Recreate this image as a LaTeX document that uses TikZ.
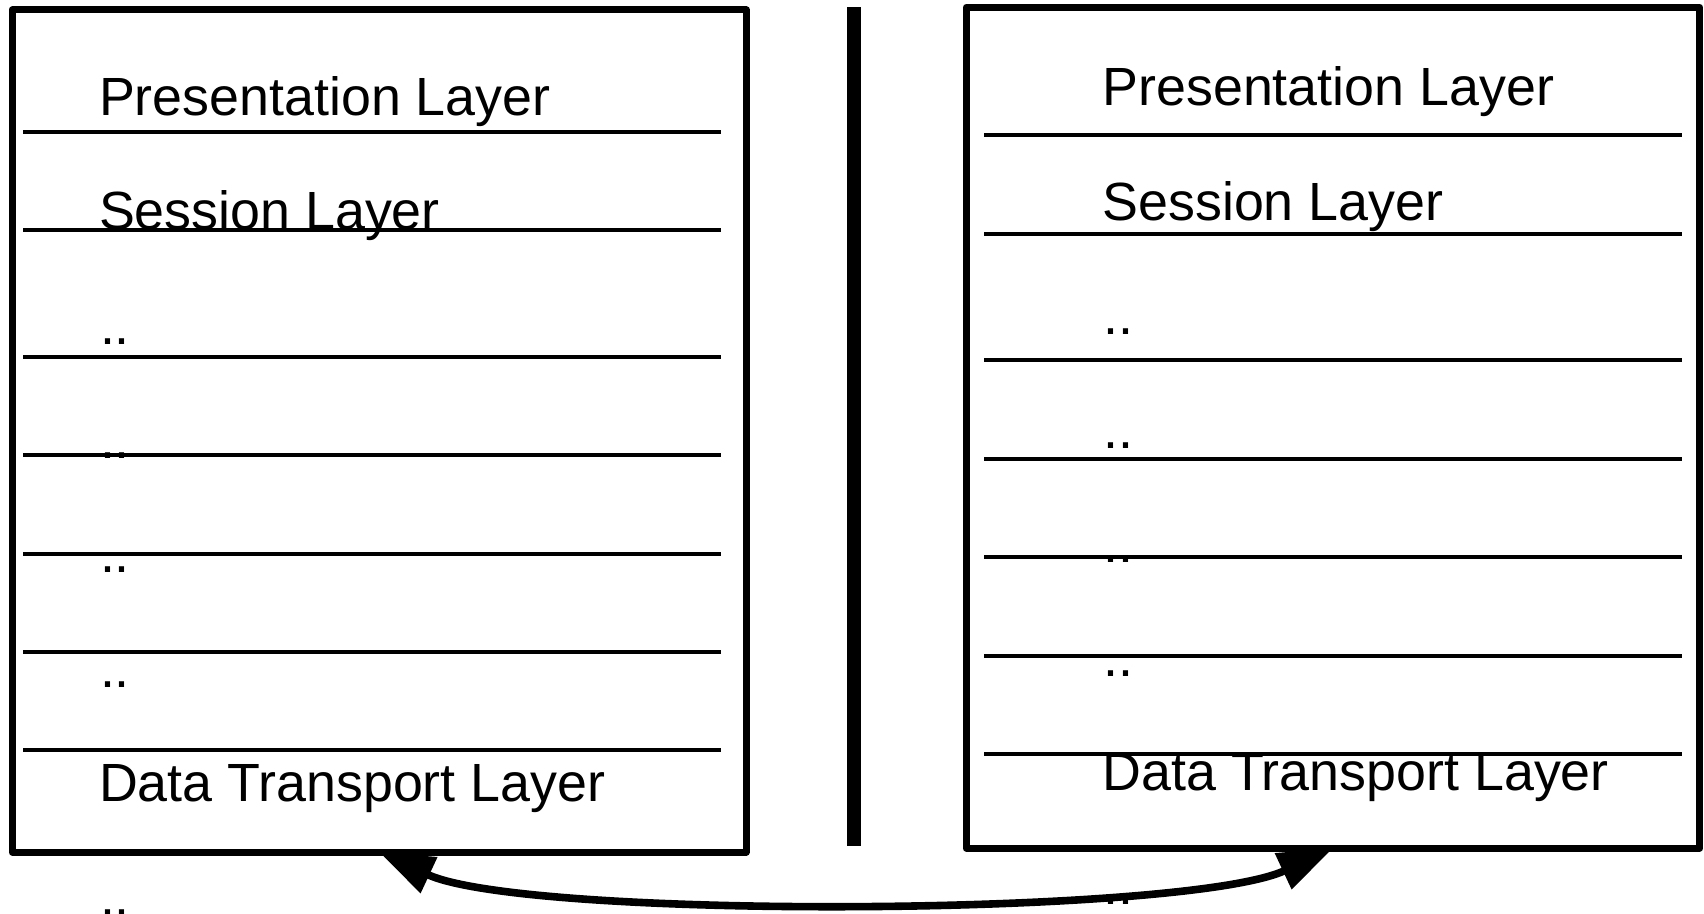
\documentclass[tikz,border=0pt]{standalone}
\usepackage{fontspec}
\setmainfont{Liberation Sans}
\usetikzlibrary{arrows.meta}
\begin{document}
\begin{tikzpicture}[x=0.5pt,y=-0.5pt,
  stackbox/.style={draw,line width=3.5pt,line join=round,inner sep=0pt,outer sep=0pt,fill=none},
  sepline/.style={line width=2pt},
  lbl/.style={anchor=base west,inner sep=0pt,outer sep=0pt,font=\fontsize{26.9pt}{32pt}\selectfont},
  divider/.style={line width=7.3pt},
  link/.style={line width=3.8pt,{Triangle[length=27.5pt,width=19pt]}-{Triangle[length=27.5pt,width=19pt]}}]
\useasboundingbox (0,0) rectangle (1704,914);
% boxes
\node[stackbox,minimum width=367pt,minimum height=421pt] (boxL) at (379.2,431) {};
\node[stackbox,minimum width=366.7pt,minimum height=420.4pt] (boxR) at (1333,427.7) {};
% left separators
\foreach \yy in {132,230.4,357,455.5,554,652,749.8}
  \draw[sepline] (23.3,\yy) -- (720.5,\yy);
% right separators
\foreach \yy in {134.7,233.6,360.5,458.7,557,656,754}
  \draw[sepline] (984,\yy) -- (1681.7,\yy);
% left labels
\node[lbl] (L1) at (99,116) {Presentation Layer};
\node[lbl] (L2) at (99,229.5) {Session Layer};
\node[lbl] (L3) at (100,345) {..};
\node[lbl] (L4) at (100,458.7) {..};
\node[lbl] (L5) at (100,572.7) {..};
\node[lbl] (L6) at (100,687) {..};
\node[lbl] (L7) at (99,801) {Data Transport Layer};
\node[lbl] (L8) at (100,915) {..};
% right labels
\node[lbl] (R1) at (1102.5,106) {Presentation Layer};
\node[lbl] (R2) at (1102.5,221) {Session Layer};
\node[lbl] (R3) at (1103.5,335) {..};
\node[lbl] (R4) at (1103.5,449) {..};
\node[lbl] (R5) at (1103.5,563) {..};
\node[lbl] (R6) at (1103.5,676.7) {..};
\node[lbl] (R7) at (1102.5,790.7) {Data Transport Layer};
\node[lbl] (R8) at (1103.5,904.5) {..};
% divider
\coordinate (dtop) at (854,7.3);
\coordinate (dbot) at (854,845.5);
\draw[divider] (dtop) -- (dbot);
% link
\draw[link] (boxL.south) .. controls +(146,68) and +(-146,68) .. (boxR.south);
\end{tikzpicture}
\end{document}
